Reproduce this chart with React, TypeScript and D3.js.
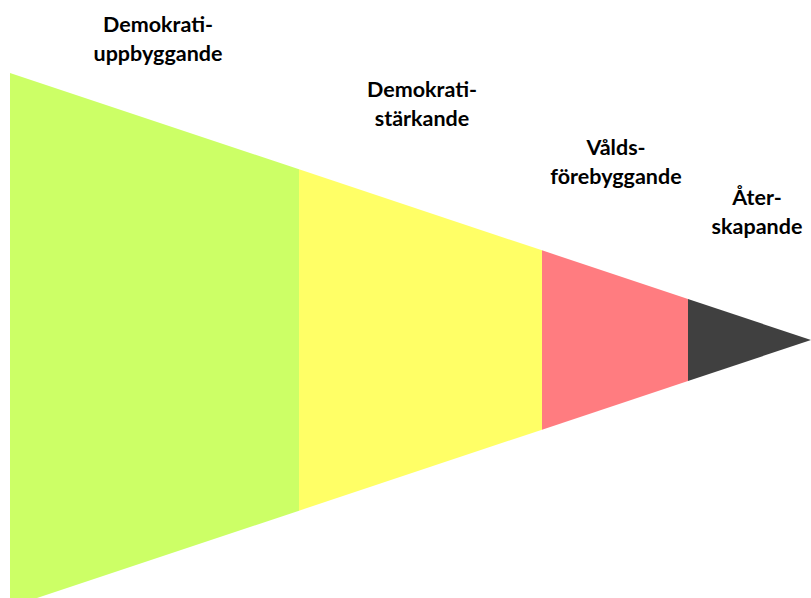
import React from 'react';
import * as d3 from 'd3';

// stage names (two lines each) and their share of the funnel length
const stageLine1 = ['Demokrati-', 'Demokrati-', 'Vålds-', 'Åter-'];
const stageLine2 = ['uppbyggande', 'stärkande', 'förebyggande', 'skapande'];
const stageLengths = [289, 243, 146, 123];
const stageColors = ['#CCFF66', '#FFFF66', '#FF7C80', '#404040'];

const W = 811;
const H = 598;

export default function App() {
  const total = d3.sum(stageLengths);
  const starts = d3.cumsum([0, ...stageLengths.slice(0, -1)]);

  const x = d3.scaleLinear().domain([0, total]).range([10, 811]);
  // half height of the funnel shrinks to nothing at the tip
  const half = d3.scaleLinear().domain([0, total]).range([267, 0]);
  const cy = 340;

  const area = d3.area<number>()
    .x((d) => x(d))
    .y0((d) => cy - half(d))
    .y1((d) => cy + half(d));

  // label anchors (centre x, baseline of first line)
  const labelPos: [number, number][] = [
    [158, 32],
    [422, 97],
    [616, 155],
    [757, 205],
  ];

  return (
    <svg
      width={W}
      height={H}
      style={{ position: 'absolute', left: 0, top: 0, background: '#fff' }}
    >
      {stageLengths.map((len, i) => (
        <path
          key={i}
          d={area([starts[i], starts[i] + len]) || undefined}
          fill={stageColors[i]}
        />
      ))}
      {stageLine1.map((t, i) => (
        <text
          key={i}
          x={labelPos[i][0]}
          y={labelPos[i][1]}
          textAnchor="middle"
          fontFamily="Lato, 'Open Sans', sans-serif"
          fontWeight="bold"
          fontSize={21.5}
          fill="#000"
        >
          <tspan x={labelPos[i][0]}>{t}</tspan>
          <tspan x={labelPos[i][0]} dy={29}>{stageLine2[i]}</tspan>
        </text>
      ))}
    </svg>
  );
}
